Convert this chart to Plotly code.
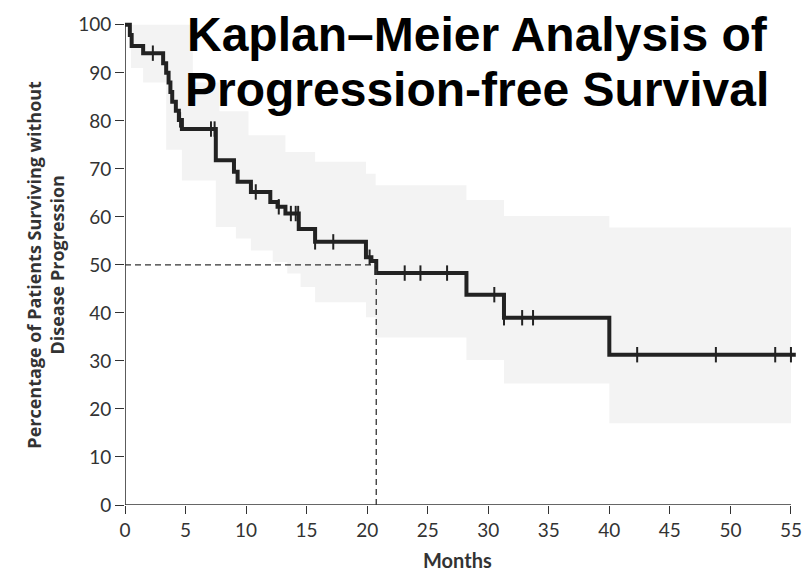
import plotly.graph_objects as go

# Kaplan-Meier step curve (months, % without progression)
step_times = [0, 0.4, 0.55, 1.5, 3.15, 3.4, 3.6, 3.75, 3.9, 4.2, 4.45, 4.7, 7.5, 9.0, 9.3, 10.4,
              12.0, 12.6, 13.25, 14.35, 15.7, 19.9, 20.35, 20.75, 28.2, 31.3, 40.0, 55.4]
step_surv = [100, 97.9, 95.6, 94.1, 92.0, 90.0, 88.0, 86.0, 84.0, 82.1, 80.2, 78.3, 71.8, 69.4, 67.3, 65.2,
             63.1, 62.1, 60.7, 57.5, 54.8, 51.6, 50.8, 48.3, 43.8, 39.0, 31.3, 31.3]

# Censoring marks
censor_times = [2.3, 4.55, 7.1, 7.4, 10.8, 12.7, 13.7, 14.1, 14.3, 15.7, 17.2, 20.2,
                23.1, 24.4, 26.6, 30.5, 31.3, 32.8, 33.7, 42.3, 48.8, 53.7, 55.0]
censor_surv = [94.1, 80.2, 78.3, 78.3, 65.2, 62.1, 60.7, 60.7, 60.7, 54.8, 54.8, 51.6,
               48.3, 48.3, 48.3, 43.8, 39.0, 39.0, 39.0, 31.3, 31.3, 31.3, 31.3]

# 95% confidence band
ci_upper_times = [0, 5.6, 7.8, 10.2, 13.25, 15.7, 19.9, 20.7, 28.2, 31.3, 40.0, 55.0]
ci_upper = [100, 88, 82, 77, 73.5, 71.5, 69, 66.6, 63.5, 60.2, 57.8, 57.8]
ci_lower_times = [0, 0.5, 1.5, 3.4, 4.7, 7.5, 9.16, 10.4, 12.2, 13.4, 14.5, 15.7, 19.9, 20.7,
                  28.2, 31.3, 40.0, 55.0]
ci_lower = [100, 91, 88, 74, 67.6, 57.9, 55.5, 53.0, 50.6, 48.2, 45.4, 42.2, 39.1, 34.9,
            30.2, 25.3, 17.0, 17.0]

median_months = 20.75
median_pct = 50

x_ticks = list(range(0, 56, 5))
y_ticks = list(range(0, 101, 10))

title_lines = ["Kaplan–Meier Analysis of", "Progression-free Survival"]

fig = go.Figure()

fig.add_trace(go.Scatter(x=ci_lower_times, y=ci_lower, mode="lines", line=dict(width=0, shape="hv"),
                         showlegend=False, hoverinfo="skip"))
fig.add_trace(go.Scatter(x=ci_upper_times, y=ci_upper, mode="lines", line=dict(width=0, shape="hv"),
                         fill="tonexty", fillcolor="#f3f3f3", showlegend=False, hoverinfo="skip"))

fig.add_shape(type="line", x0=0, x1=median_months, y0=median_pct, y1=median_pct,
              line=dict(color="#333", width=1.3, dash="6px,4px"))
fig.add_shape(type="line", x0=median_months, x1=median_months, y0=0, y1=median_pct,
              line=dict(color="#333", width=1.3, dash="6px,4px"))

fig.add_trace(go.Scatter(x=step_times, y=step_surv, mode="lines",
                         line=dict(color="#222", width=4, shape="hv"), showlegend=False))
fig.add_trace(go.Scatter(x=censor_times, y=censor_surv, mode="markers",
                         marker=dict(symbol="line-ns", size=11, line=dict(color="#222", width=2)),
                         showlegend=False, cliponaxis=False))

# axis lines
fig.add_shape(type="line", x0=0, x1=0, y0=0, y1=100, line=dict(color="#333", width=1.6), layer="below")
fig.add_shape(type="line", x0=0, x1=55, y0=0, y1=0, line=dict(color="#333", width=1.6), layer="below")

tickfont = dict(family="Lato, Open Sans, sans-serif", size=19, color="#333")
fig.update_xaxes(range=[0, 55.5], tickvals=x_ticks, ticks="outside", ticklen=8, tickwidth=1.4,
                 tickcolor="#333", showgrid=False, zeroline=False, showline=False, tickfont=tickfont)
fig.update_yaxes(range=[0, 100.8], tickvals=y_ticks, ticks="outside", ticklen=9, tickwidth=1.4,
                 tickcolor="#333", showgrid=False, zeroline=False, showline=False, tickfont=tickfont)

for line_text, ypos in zip(title_lines, [0.972, 0.858]):
    fig.add_annotation(text="<b>" + line_text + "</b>",
                       xref="paper", yref="paper", x=0.524, y=ypos, xanchor="center", yanchor="middle",
                       showarrow=False, font=dict(family="Liberation Sans, Arial, sans-serif", size=48, color="#000"))
fig.add_annotation(text="Percentage of Patients Surviving without<br>Disease Progression",
                   xref="paper", yref="paper", x=-0.118, y=0.496, xanchor="center", yanchor="middle",
                   textangle=-90, showarrow=False,
                   font=dict(family="Liberation Sans Narrow, Open Sans, sans-serif", size=18, color="#333", weight="bold"))
fig.add_annotation(text="<b>Months</b>", xref="paper", yref="paper", x=0.495, y=-0.113,
                   xanchor="center", yanchor="middle", showarrow=False,
                   font=dict(family="Lato, Open Sans, sans-serif", size=20, color="#333"))

fig.update_layout(width=807, height=572, margin=dict(l=125, r=5, t=21, b=67),
                  plot_bgcolor="white", paper_bgcolor="white")

fig.write_html("out.html")
